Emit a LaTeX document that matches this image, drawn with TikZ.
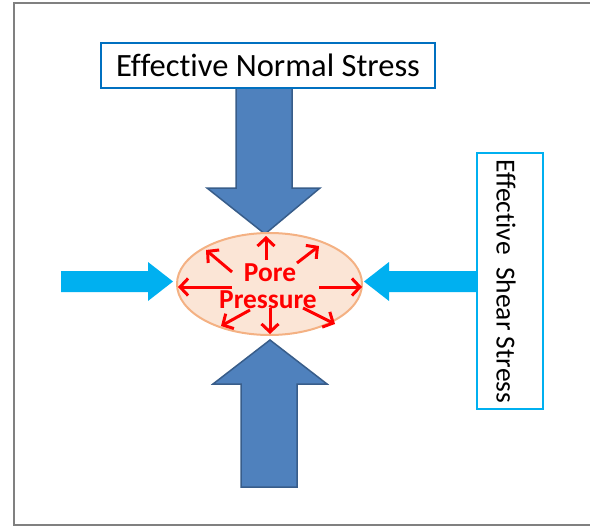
\documentclass[tikz,border=0pt]{standalone}
\usepackage{fontspec}
\setmainfont{Carlito}[Ligatures=NoCommon]
\usetikzlibrary{arrows.meta}
\definecolor{frameGray}{RGB}{128,128,128}
\definecolor{bigBlue}{RGB}{79,129,189}
\definecolor{bigBlueEdge}{RGB}{56,93,138}
\definecolor{cyanArrow}{RGB}{0,176,240}
\definecolor{boxBlue}{RGB}{0,112,192}
\definecolor{peachFill}{RGB}{251,229,214}
\definecolor{peachEdge}{RGB}{244,177,131}
\tikzset{
  bigarrow/.style={fill=bigBlue, draw=bigBlueEdge, line width=1.5pt, line join=miter},
  sidearrow/.style={fill=cyanArrow, draw=none},
  porearrow/.style={draw=red, line width=3pt, -{Straight Barb[length=8pt,width=17pt]}},
  poretext/.style={text=red, font=\fontsize{27.4}{29}\selectfont\bfseries, inner sep=0pt},
  labelbox/.style={draw, line width=1.2pt, fill=white, inner sep=0pt}
}
\begin{document}
\begin{tikzpicture}[x=1pt,y=-1pt]
\useasboundingbox (0,0) rectangle (590,527);
% frame
\draw[frameGray, line width=2pt] (590,3.5) -- (14,3.5) -- (14,525) -- (590,525);
% big blue arrows
\draw[bigarrow] (236,88) -- (292,88) -- (292,188) -- (320,188) -- (265,234) -- (207,188) -- (236,188) -- cycle;
\draw[bigarrow] (241,487) -- (297,487) -- (297,384) -- (327,384) -- (270,340) -- (213,384) -- (241,384) -- cycle;
% cyan side arrows
\fill[sidearrow] (61,271) -- (148,271) -- (148,262) -- (173,281.5) -- (148,301) -- (148,292) -- (61,292) -- cycle;
\fill[sidearrow] (477,271) -- (389,271) -- (389,262) -- (364,281.5) -- (389,301) -- (389,292) -- (477,292) -- cycle;
% labels
\node[labelbox, draw=boxBlue, minimum width=334pt, minimum height=45pt, font=\fontsize{32.5}{34}\selectfont] (normal) at (268,65.5) {Effective Normal Stress};
\node[labelbox, draw=cyanArrow, minimum width=66pt, minimum height=256pt] (shearbox) at (510,281) {};
\node[rotate=-90, font=\fontsize{27.5}{29}\selectfont, inner sep=0pt] (shear) at (506,281.5) {Effective\ \ Shear Stress};
% pore ellipse
\draw[draw=peachEdge, fill=peachFill, line width=2pt] (269.5,284) ellipse [x radius=92.5, y radius=51];
\draw[porearrow] (266,260) -- (266,236);
\draw[porearrow] (232,287) -- (178,287);
\draw[porearrow] (319,287) -- (362,287);
\draw[porearrow] (232,272) -- (206,250);
\draw[porearrow] (297,263) -- (319,246);
\draw[porearrow] (250,310) -- (221,326);
\draw[porearrow] (270,308) -- (270,334);
\draw[porearrow] (303,308) -- (335,324);
\node[poretext] (pore) at (270,273) {Pore};
\node[poretext] (pressure) at (268,300) {Pressure};
\end{tikzpicture}
\end{document}
